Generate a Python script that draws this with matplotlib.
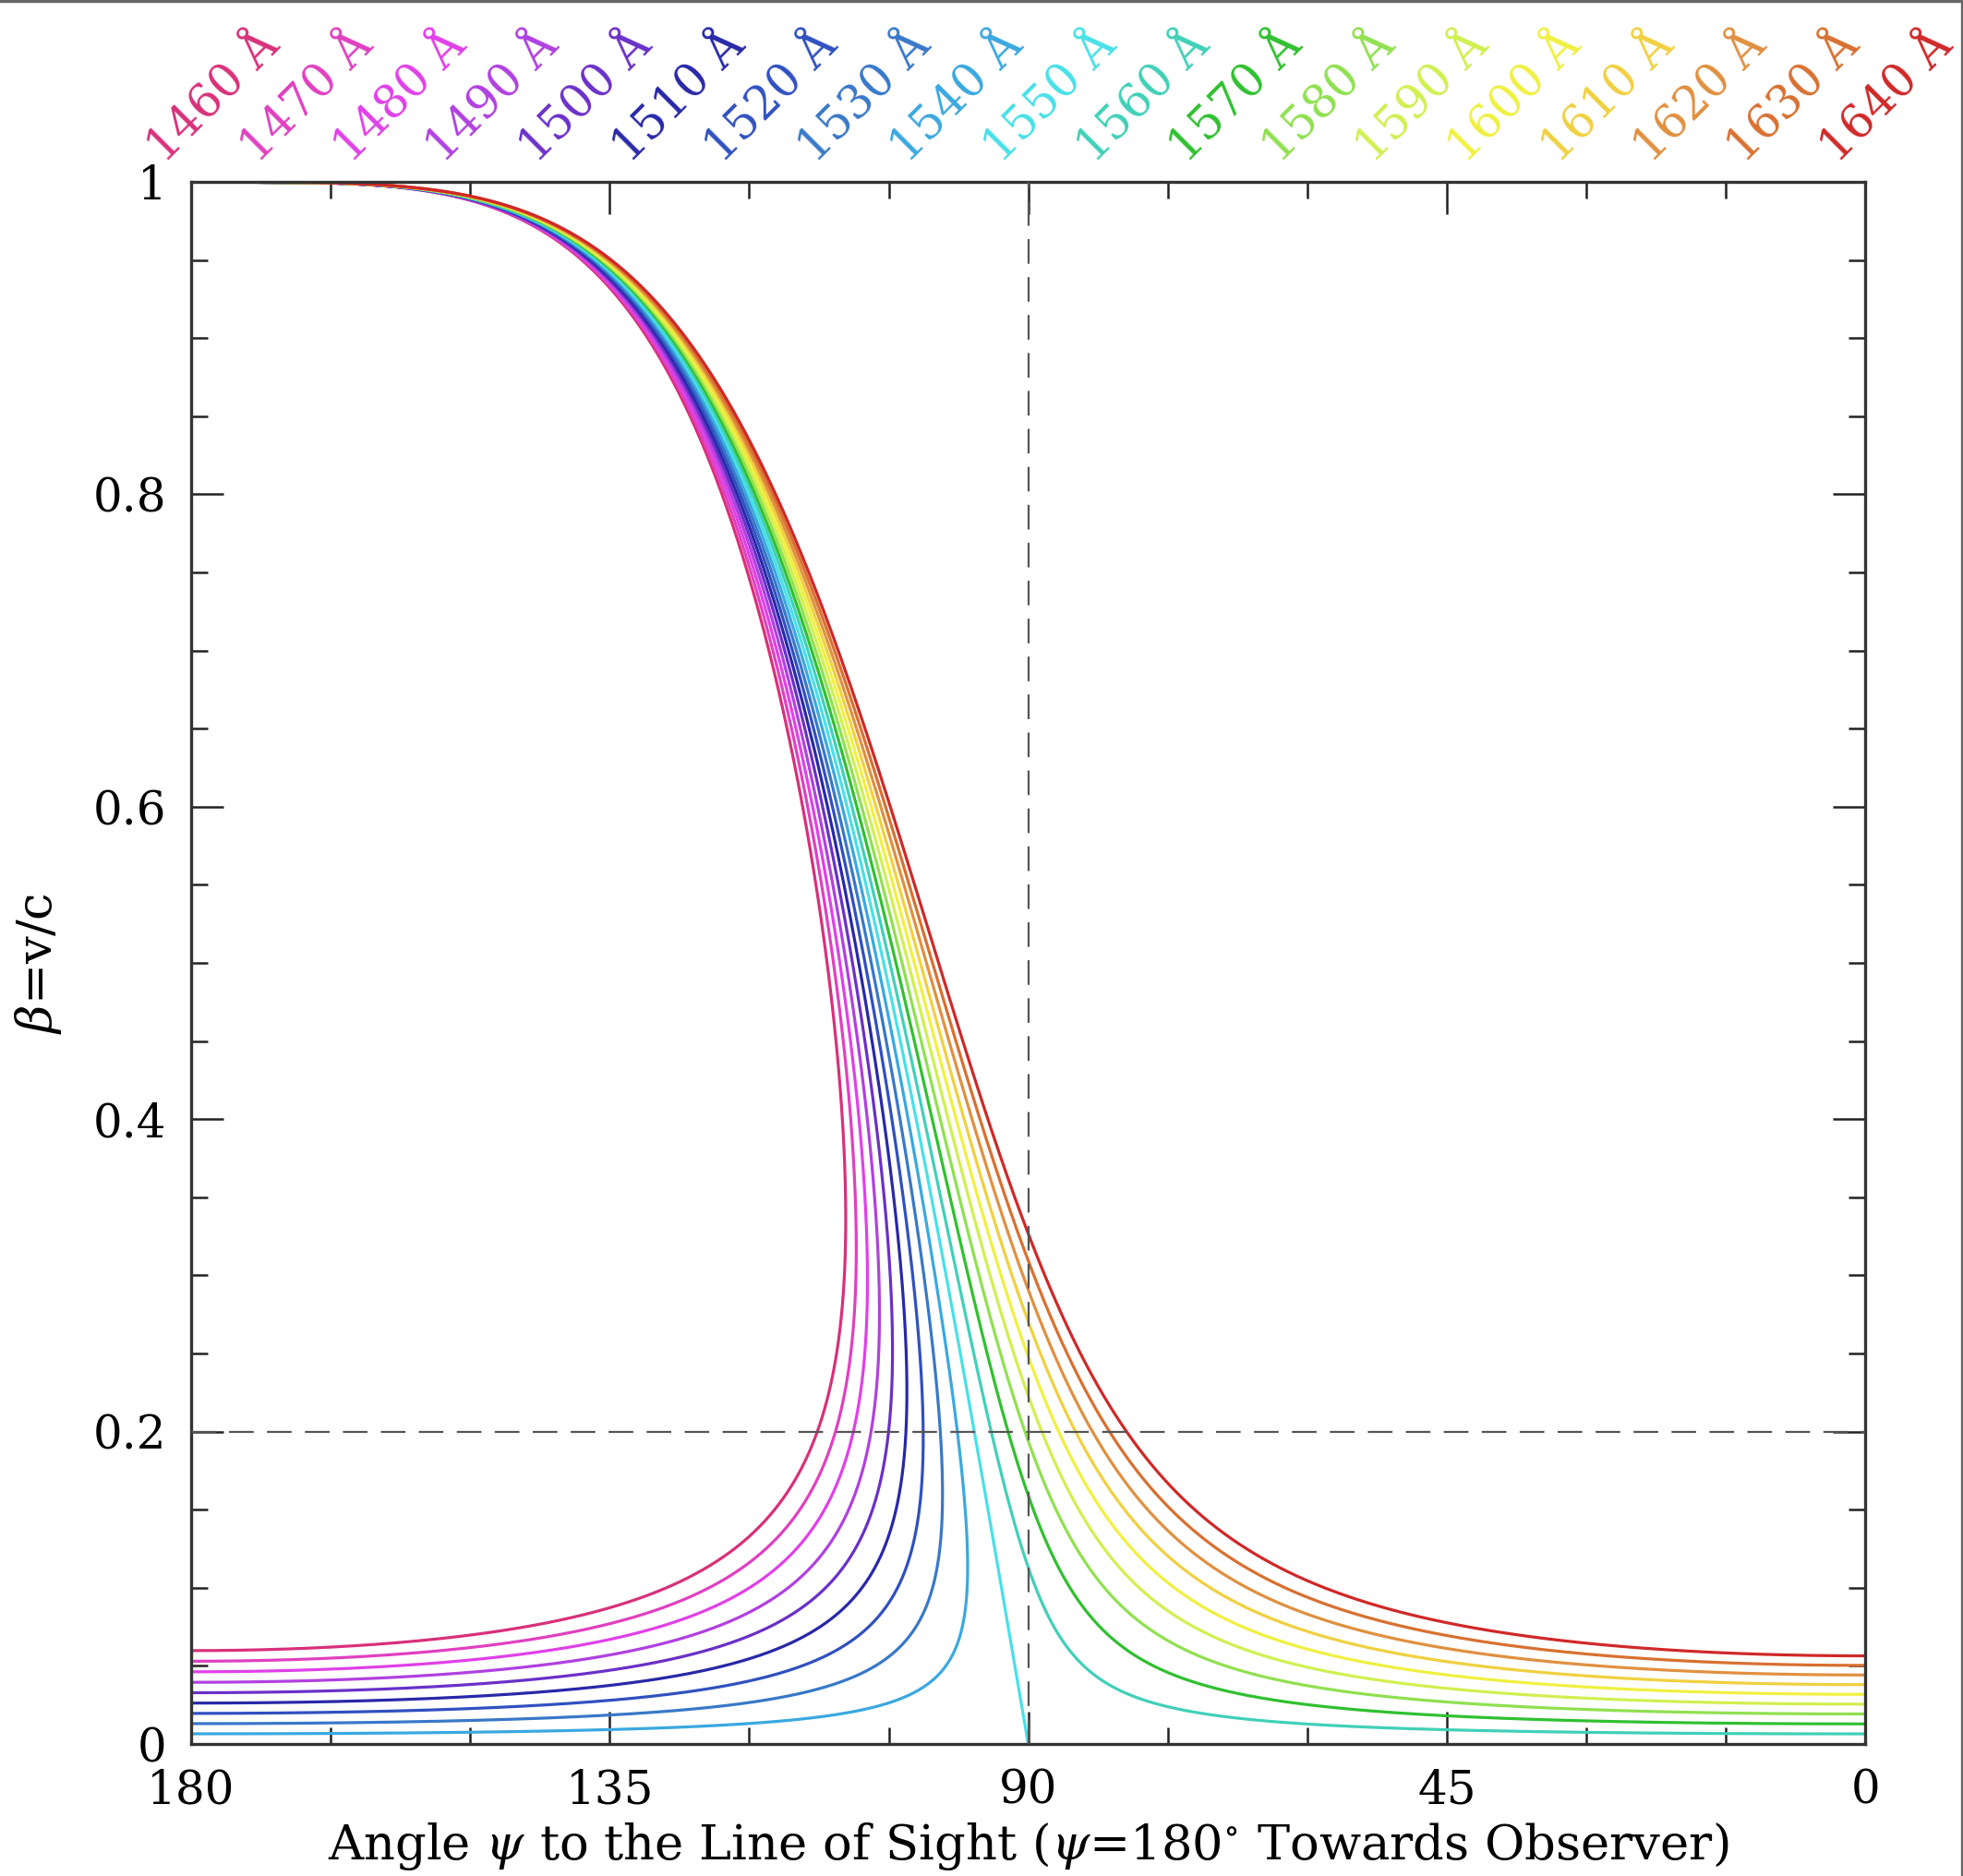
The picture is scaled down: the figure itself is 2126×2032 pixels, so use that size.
import numpy as np
import matplotlib
matplotlib.use("Agg")
import matplotlib.pyplot as plt
from matplotlib.lines import Line2D

# ---- data ----
rest_wavelength = 1550.0           # Angstrom, line rest wavelength (curve meets beta=0 at 90 deg)
wavelengths = [1460, 1470, 1480, 1490, 1500, 1510, 1520, 1530, 1540, 1550,
               1560, 1570, 1580, 1590, 1600, 1610, 1620, 1630, 1640]
colors = ["#d8307a", "#e040c0", "#e040e8", "#b040e0", "#6a30c8", "#2828a8",
          "#3050c0", "#3878c8", "#3aa8e0", "#48e0e8", "#40d0b8", "#30c030",
          "#90e050", "#d0f050", "#f0f040", "#f0d040", "#e09040", "#d87030",
          "#d02828"]
x_ticks = [180, 135, 90, 45, 0]
y_ticks = [0, 0.2, 0.4, 0.6, 0.8, 1]
y_ticklabels = ["0", "0.2", "0.4", "0.6", "0.8", "1"]
ref_angle = 90
ref_beta = 0.2

plt.rcParams['font.family'] = ['DejaVu Serif']
plt.rcParams['mathtext.fontset'] = 'dejavuserif'

W, H, DPI = 2126, 2032, 200
fig = plt.figure(figsize=(W / DPI, H / DPI), dpi=DPI)
ax = fig.add_axes([0.0974, 0.0704, 0.8528, 0.8326])

# curves: observed wavelength  lam = lam0 * gamma * (1 + beta cos psi)
for lam, c in zip(wavelengths, colors):
    r = lam / rest_wavelength
    bmin = abs(r * r - 1) / (r * r + 1)
    t = np.linspace(0, 1, 6000)
    beta = bmin + (1 - bmin) * t ** 2
    beta = beta[(beta > 0) & (beta < 1)]
    cosp = (r * np.sqrt(1 - beta ** 2) - 1) / beta
    psi = np.degrees(np.arccos(np.clip(cosp, -1, 1)))
    if r == 1:
        beta = np.concatenate([[0.0], beta, [1.0]])
        psi = np.concatenate([[90.0], psi, [180.0]])
    else:
        beta = np.concatenate([[bmin], beta, [1.0]])
        psi = np.concatenate([[0.0 if r > 1 else 180.0], psi, [180.0]])
    ax.plot(psi, beta, color=c, lw=1.15, solid_capstyle='butt', zorder=2)

ax.axvline(ref_angle, color="#555555", lw=0.8, ls=(0, (12, 6.5)), zorder=3)
ax.axhline(ref_beta, color="#555555", lw=0.8, ls=(0, (12, 6.5)), zorder=3)

ax.set_xlim(180, 0)
ax.set_ylim(0, 1)
ax.set_xticks(x_ticks)
ax.set_xticklabels([str(v) for v in x_ticks])
ax.set_xticks(np.arange(0, 181, 15), minor=True)
ax.set_yticks(y_ticks)
ax.set_yticklabels(y_ticklabels)
ax.set_yticks(np.arange(0, 1.001, 0.05), minor=True)
ax.tick_params(which='both', direction='in', top=True, right=True,
               labelsize=18, pad=9.5, width=0.9, color='#222222')
ax.tick_params(which='major', length=12.5)
ax.tick_params(which='minor', length=6.5)
for s in ax.spines.values():
    s.set_linewidth(1.2)
    s.set_color('#333333')

ax.set_xlabel(r"Angle $\psi$ to the Line of Sight ($\psi$=180$^{\circ}$ Towards Observer)",
              fontsize=19)
ax.set_ylabel(r"$\beta$=v/c", fontsize=19)
ax.xaxis.set_label_coords(0.5, -0.074)
ax.xaxis.label.set_va('baseline')
ax.yaxis.set_label_coords(-0.076, 0.5)

# wavelength labels along the top
for i, (lam, c) in enumerate(zip(wavelengths, colors)):
    ax.text(-0.016 + i * 0.0555, 1.0115, f"{lam} Å", color=c, fontsize=18,
            rotation=45, rotation_mode='anchor', ha='left', va='baseline',
            transform=ax.transAxes, clip_on=False)

# thin frame on top and right edges of the image
fig.add_artist(Line2D([0, 0.9995, 0.9995], [0.9995, 0.9995, 0], transform=fig.transFigure,
                      color='#666666', lw=1.2))

fig.savefig("out.png", dpi=DPI, facecolor='white')
